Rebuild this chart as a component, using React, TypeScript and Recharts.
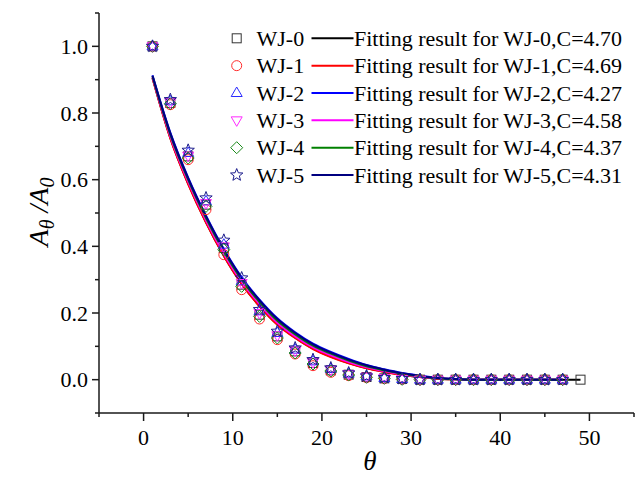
import React from "react";
import { ComposedChart, Scatter, Line, XAxis, YAxis, Legend, Label } from "recharts";

const FONT = '"Liberation Serif", "Times New Roman", Times, serif';
const AXIS_COLOR = "#1a1a1a";

// theta positions of the measured points (2-degree step)
const THETA = [1, 3, 5, 7, 9, 11, 13, 15, 17, 19, 21, 23, 25, 27, 29, 31, 33, 35, 37, 39, 41, 43, 45, 47, 49];

const NAMES = ["WJ-0", "WJ-1", "WJ-2", "WJ-3", "WJ-4", "WJ-5"];
const C_VALUES = ["4.70", "4.69", "4.27", "4.58", "4.37", "4.31"];

// measured A_theta / A_0
const WJ0 = [1.0, 0.83, 0.67, 0.525, 0.395, 0.285, 0.195, 0.13, 0.085, 0.05, 0.028, 0.015, 0.008, 0.004, 0.002, 0, 0, 0, 0, 0, 0, 0, 0, 0, 0];
const WJ1 = [1.0, 0.825, 0.66, 0.51, 0.375, 0.27, 0.182, 0.12, 0.077, 0.042, 0.022, 0.012, 0.006, 0.003, 0.001, 0, 0, 0, 0, 0, 0, 0, 0, 0];
const WJ2 = [1.0, 0.835, 0.68, 0.535, 0.405, 0.295, 0.205, 0.14, 0.09, 0.055, 0.032, 0.018, 0.01, 0.005, 0.002, 0, 0, 0, 0, 0, 0, 0, 0, 0];
const WJ3 = [1.0, 0.832, 0.672, 0.53, 0.4, 0.29, 0.2, 0.133, 0.087, 0.052, 0.03, 0.017, 0.009, 0.005, 0.002, 0, 0, 0, 0, 0, 0, 0, 0, 0];
const WJ4 = [1.0, 0.828, 0.665, 0.52, 0.39, 0.28, 0.19, 0.125, 0.08, 0.047, 0.026, 0.014, 0.007, 0.004, 0.001, 0, 0, 0, 0, 0, 0, 0, 0, 0];
const WJ5 = [1.0, 0.84, 0.688, 0.545, 0.418, 0.305, 0.21, 0.145, 0.095, 0.06, 0.035, 0.02, 0.011, 0.006, 0.003, 0, 0, 0, 0, 0, 0, 0, 0, 0];

// fitted curves at the same theta positions
const FIT0 = [0.905, 0.725, 0.588, 0.472, 0.372, 0.288, 0.221, 0.166, 0.126, 0.093, 0.069, 0.05, 0.035, 0.024, 0.015, 0.008, 0.003, 0.001, 0, 0, 0, 0, 0, 0, 0];
const FIT1 = [0.905, 0.724, 0.587, 0.471, 0.371, 0.287, 0.22, 0.165, 0.125, 0.092, 0.068, 0.049, 0.034, 0.023, 0.014, 0.008, 0.003, 0.001, 0, 0, 0, 0, 0, 0];
const FIT2 = [0.913, 0.741, 0.606, 0.492, 0.392, 0.307, 0.24, 0.184, 0.142, 0.108, 0.083, 0.062, 0.044, 0.031, 0.02, 0.012, 0.005, 0.002, 0, 0, 0, 0, 0, 0];
const FIT3 = [0.908, 0.73, 0.594, 0.478, 0.378, 0.294, 0.227, 0.171, 0.13, 0.097, 0.073, 0.053, 0.037, 0.026, 0.016, 0.009, 0.004, 0.001, 0, 0, 0, 0, 0, 0];
const FIT4 = [0.91, 0.735, 0.6, 0.485, 0.385, 0.3, 0.233, 0.177, 0.136, 0.102, 0.078, 0.057, 0.04, 0.028, 0.018, 0.01, 0.004, 0.001, 0, 0, 0, 0, 0, 0];
const FIT5 = [0.912, 0.739, 0.604, 0.49, 0.39, 0.305, 0.238, 0.182, 0.14, 0.106, 0.081, 0.06, 0.043, 0.03, 0.019, 0.011, 0.005, 0.002, 0, 0, 0, 0, 0, 0];

const X_TICKS = [-5, 0, 5, 10, 15, 20, 25, 30, 35, 40, 45, 50, 55];
const Y_TICKS = [-0.1, 0, 0.1, 0.2, 0.3, 0.4, 0.5, 0.6, 0.7, 0.8, 0.9, 1.0, 1.1];

const MARKER_COLORS = ["#333333", "#ff2a2a", "#2a2aff", "#ff2aff", "#1a8a1a", "#1c1c8c"];
const LINE_COLORS = ["#000000", "#ff0000", "#0000ff", "#ff00ff", "#008000", "#000080"];
const SHAPES = ["square", "circle", "triangle", "down", "diamond", "star"];

const toPoints = (ys: number[]) => ys.map((y, i) => ({ x: THETA[i], y }));

const POINTS = [WJ0, WJ1, WJ2, WJ3, WJ4, WJ5].map(toPoints);
const FITS = [FIT0, FIT1, FIT2, FIT3, FIT4, FIT5].map(toPoints);

function starPath(cx: number, cy: number, ro: number, ri: number) {
  const pts: string[] = [];
  for (let k = 0; k < 10; k++) {
    const r = k % 2 === 0 ? ro : ri;
    const a = -Math.PI / 2 + (k * Math.PI) / 5;
    pts.push(`${(cx + r * Math.cos(a)).toFixed(2)},${(cy + r * Math.sin(a)).toFixed(2)}`);
  }
  return pts.join(" ");
}

function Marker({ cx, cy, shape, color }: { cx: number; cy: number; shape: string; color: string }) {
  if (cx == null || cy == null) return null;
  const common = { fill: "none", stroke: color, strokeWidth: 1 };
  switch (shape) {
    case "square":
      return <rect x={cx - 4.5} y={cy - 4.5} width={9} height={9} {...common} />;
    case "circle":
      return <circle cx={cx} cy={cy} r={5} {...common} />;
    case "triangle":
      return <polygon points={`${cx},${cy - 6} ${cx + 5.5},${cy + 3.5} ${cx - 5.5},${cy + 3.5}`} {...common} />;
    case "down":
      return <polygon points={`${cx},${cy + 6} ${cx + 5.5},${cy - 3.5} ${cx - 5.5},${cy - 3.5}`} {...common} />;
    case "diamond":
      return <polygon points={`${cx},${cy - 6} ${cx + 6},${cy} ${cx},${cy + 6} ${cx - 6},${cy}`} {...common} />;
    default:
      return <polygon points={starPath(cx, cy, 6.5, 2.8)} {...common} />;
  }
}

function XTick(props: any) {
  const { x, y, payload } = props;
  const v = payload.value;
  const major = v % 10 === 0;
  return (
    <g>
      <line x1={x} x2={x} y1={y} y2={y + (major ? 8 : 4)} stroke={AXIS_COLOR} strokeWidth={1.5} />
      {major && (
        <text x={x} y={y + 32} textAnchor="middle" fontFamily={FONT} fontSize={22} fill="#000">
          {v}
        </text>
      )}
    </g>
  );
}

function YTick(props: any) {
  const { x, y, payload } = props;
  const v = payload.value;
  const tenth = Math.round(v * 10);
  const major = tenth % 2 === 0 && tenth >= 0 && tenth <= 10;
  return (
    <g>
      <line x1={x} x2={x - (major ? 7 : 4)} y1={y} y2={y} stroke={AXIS_COLOR} strokeWidth={1.5} />
      {major && (
        <text x={x - 11} y={y} dy="0.35em" textAnchor="end" fontFamily={FONT} fontSize={22} fill="#000">
          {(tenth / 10).toFixed(1)}
        </text>
      )}
    </g>
  );
}

const YTitle = () => (
  <text
    transform="translate(48,212) rotate(-90)"
    textAnchor="middle"
    fontFamily={FONT}
    fontSize={28}
    fontStyle="italic"
    fill="#000"
  >
    <tspan>A</tspan>
    <tspan fontSize={20} dy={6}>θ</tspan>
    <tspan dy={-6}> /A</tspan>
    <tspan fontSize={20} dy={6}>0</tspan>
  </text>
);

const XTitle = () => (
  <text x={370} y={470} textAnchor="middle" fontFamily={FONT} fontSize={27} fontStyle="italic" fill="#000">
    θ
  </text>
);

const renderLegend = () => (
  <svg width={420} height={180} style={{ display: "block", overflow: "visible" }}>
    {NAMES.map((name, i) => {
      const cy = 18.3 + i * 27.35;
      return (
        <g key={name}>
          <Marker cx={26.7} cy={cy} shape={SHAPES[i]} color={MARKER_COLORS[i]} />
          <text x={46.5} y={cy + 7.5} fontFamily={FONT} fontSize={22} fill="#000">
            {name}
          </text>
          <line x1={101.5} x2={143.5} y1={cy} y2={cy} stroke={LINE_COLORS[i]} strokeWidth={2} />
          <text x={144} y={cy + 7.5} fontFamily={FONT} fontSize={22} fill="#000">
            {`Fitting result for ${name},C=${C_VALUES[i]}`}
          </text>
        </g>
      );
    })}
  </svg>
);

export default function App() {
  return (
    <div style={{ position: "absolute", left: 0, top: 0, width: 640, height: 477, background: "#fff" }}>
      <ComposedChart width={640} height={477} margin={{ top: 13, right: 6, left: 0, bottom: 0 }}>
        <XAxis
          type="number"
          dataKey="x"
          domain={[-5, 55]}
          ticks={X_TICKS}
          allowDataOverflow
          height={64}
          tickSize={0}
          tickMargin={0}
          tickLine={false}
          tick={<XTick />}
          axisLine={{ stroke: AXIS_COLOR, strokeWidth: 1.5 }}
          interval={0}
        >
          <Label content={<XTitle />} />
        </XAxis>
        <YAxis
          type="number"
          dataKey="y"
          domain={[-0.1, 1.1]}
          ticks={Y_TICKS}
          allowDataOverflow
          width={99}
          tickSize={0}
          tickMargin={0}
          tickLine={false}
          tick={<YTick />}
          axisLine={{ stroke: AXIS_COLOR, strokeWidth: 1.5 }}
          interval={0}
        >
          <Label content={<YTitle />} />
        </YAxis>
        <Legend
          layout="vertical"
          align="center"
          verticalAlign="middle"
          content={renderLegend}
          wrapperStyle={{ left: 210, top: 20, width: 420, height: 180 }}
        />
        {POINTS.map((data, i) => (
          <Scatter
            key={`p${i}`}
            name={NAMES[i]}
            data={data}
            dataKey="y"
            isAnimationActive={false}
            shape={(p: any) => <Marker cx={p.cx} cy={p.cy} shape={SHAPES[i]} color={MARKER_COLORS[i]} />}
          />
        ))}
        {FITS.map((data, i) => (
          <Line
            key={`f${i}`}
            name={`Fitting result for ${NAMES[i]}`}
            data={data}
            dataKey="y"
            type="monotone"
            stroke={LINE_COLORS[i]}
            strokeWidth={2}
            dot={false}
            activeDot={false}
            isAnimationActive={false}
          />
        ))}
      </ComposedChart>
    </div>
  );
}
